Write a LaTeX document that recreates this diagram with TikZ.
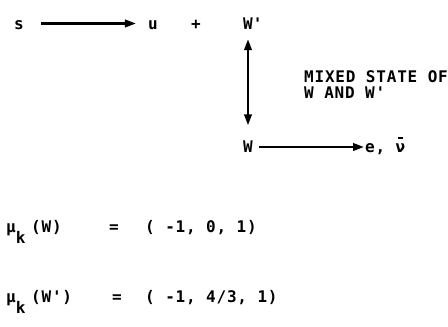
\documentclass[tikz,border=0pt]{standalone}
\usepackage{fontspec}
\newfontfamily\mono[LetterSpace=5]{DejaVu Sans Mono}
\usetikzlibrary{arrows.meta}
\newcommand\nubar{\leavevmode\rlap{\kern2.2pt\rule[14pt]{5pt}{1.4pt}}ν}
\begin{document}
\begin{tikzpicture}[x=1pt,y=-1pt,
  txt/.style={font=\mono\bfseries\fontsize{16}{16}\selectfont, inner sep=0pt, text height=11pt, text depth=0pt},
  lbl/.style={font=\mono\bfseries\fontsize{16}{16}\selectfont, inner sep=0pt, anchor=base west},
  tip/.tip={Triangle[length=11pt,width=7.5pt]},
  arr/.style={line width=2.3pt, -tip},
  darr/.style={line width=2.3pt, tip-tip}]
\useasboundingbox (0,0) rectangle (448,327);
\node[txt] (s) at (19,23.5) {s};
\node[txt] (u) at (153,23.5) {u};
\node[txt] (plus) at (196,23.5) {+};
\node[txt] (Wp) at (248,23.5) {W\rlap{'}};
\node[txt] (W) at (248,147) {W};
\node[txt,anchor=west] (e) at (365,147) {e, \nubar};
\node[lbl] (mix1) at (304,82) {MIXED STATE OF};
\node[lbl] (mix2) at (304,98) {W AND W'};
\node[lbl] (mu1) at (6,232) {μ\raisebox{-11pt}{k}};
\node[lbl] (arg1) at (31,232) {(W)};
\node[lbl] (eq1) at (109,232) {=};
\node[lbl] (val1) at (145,232) {( -1, 0, 1)};
\node[lbl] (mu2) at (6,302) {μ\raisebox{-11pt}{k}};
\node[lbl] (arg2) at (31,302) {(W')};
\node[lbl] (eq2) at (112,302) {=};
\node[lbl] (val2) at (145,302) {( -1, 4/3, 1)};
\draw[arr, shorten <=17pt, shorten >=12pt] (s) -- (u);
\draw[darr, shorten <=10pt, shorten >=16pt] (Wp) -- (W);
\draw[arr, shorten <=6pt, shorten >=1pt] (W) -- (e);
\end{tikzpicture}
\end{document}
